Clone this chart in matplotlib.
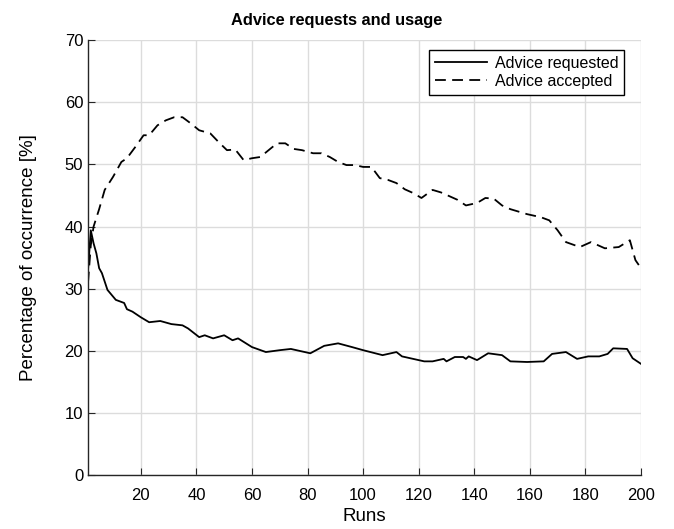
import matplotlib
matplotlib.use("Agg")
import matplotlib.pyplot as plt

# advice requested (solid line), sampled runs
req_runs = [1, 2, 3, 4, 5, 6, 8, 11, 14, 15,
            17, 20, 23, 27, 31, 35, 37, 41, 43, 46,
            50, 53, 55, 60, 65, 70, 74, 81, 86, 91,
            96, 100, 107, 112, 114, 122, 125, 129, 130, 133,
            136, 137, 138, 141, 145, 150, 153, 159, 165, 168,
            173, 177, 181, 185, 188, 190, 195, 197, 200]
req_vals = [33, 39.4, 37.3, 35.7, 33.3, 32.5, 29.8, 28.2, 27.7, 26.7,
            26.3, 25.4, 24.6, 24.8, 24.3, 24.1, 23.6, 22.2, 22.5, 22,
            22.5, 21.7, 22, 20.6, 19.8, 20.1, 20.3, 19.6, 20.8, 21.2,
            20.6, 20.1, 19.3, 19.8, 19.1, 18.3, 18.3, 18.7, 18.3, 19,
            19, 18.7, 19.1, 18.5, 19.6, 19.3, 18.3, 18.2, 18.3, 19.5,
            19.8, 18.7, 19.1, 19.1, 19.5, 20.4, 20.3, 18.8, 17.9]

# advice accepted (dashed line)
acc_runs = [1, 2, 3, 5, 7, 10, 13, 15, 18, 21,
            23, 26, 29, 32, 35, 38, 41, 45, 48, 51,
            54, 57, 60, 63, 66, 69, 72, 75, 78, 82,
            85, 88, 91, 94, 97, 100, 103, 106, 109, 112,
            115, 118, 121, 125, 128, 131, 134, 137, 141, 144,
            147, 150, 153, 156, 159, 164, 167, 170, 173, 178,
            182, 187, 192, 196, 198, 200]
acc_vals = [31, 37, 40, 42.8, 45.9, 48, 50.4, 51, 52.8, 54.7,
            54.7, 56.3, 57.1, 57.6, 57.6, 56.6, 55.5, 55, 53.6, 52.3,
            52.4, 50.7, 51, 51.2, 52.3, 53.4, 53.4, 52.5, 52.3, 51.8,
            51.8, 51.2, 50.4, 49.9, 49.9, 49.6, 49.6, 47.8, 47.5, 47,
            46, 45.4, 44.6, 45.9, 45.5, 44.9, 44.3, 43.4, 43.8, 44.6,
            44.5, 43.4, 42.8, 42.4, 42, 41.5, 41, 39.4, 37.5, 36.7,
            37.5, 36.5, 36.7, 37.8, 34.6, 33.3]

xticks = [20, 40, 60, 80, 100, 120, 140, 160, 180, 200]
yticks = [0, 10, 20, 30, 40, 50, 60, 70]

plt.rcParams['font.family'] = ['Liberation Sans', 'DejaVu Sans']

fig = plt.figure(figsize=(6.74, 5.29), dpi=100)
ax = fig.add_axes([0.1306, 0.102, 0.8204, 0.822])

ax.plot(req_runs, req_vals, color='black', linewidth=1.3, label='Advice requested')
ax.plot(acc_runs, acc_vals, color='black', linewidth=1.3, linestyle=(0, (6, 3.5)),
        label='Advice accepted')

ax.set_xlim(1, 200)
ax.set_ylim(0, 70)
ax.set_xticks(xticks)
ax.set_yticks(yticks)
ax.grid(True, color='#dcdcdc', linewidth=1.0)
ax.set_axisbelow(True)

for side in ['top', 'right']:
    ax.spines[side].set_visible(False)
for side in ['left', 'bottom']:
    ax.spines[side].set_color('#262626')
    ax.spines[side].set_linewidth(1.0)
ax.tick_params(direction='in', length=5, labelsize=12, colors='#262626',
               labelcolor='black')
ax.tick_params(axis='x', pad=9)

ax.set_xlabel('Runs', fontsize=13.5, labelpad=4)
ax.set_ylabel('Percentage of occurrence [%]', fontsize=13.5, labelpad=20)
fig.text(0.5, 0.962, 'Advice requests and usage', fontsize=11.8,
         fontweight='bold', ha='center', va='center')

leg = ax.legend(loc='upper right', bbox_to_anchor=(0.969, 0.977), fontsize=11.5,
                handlelength=3.25, fancybox=False, framealpha=1,
                borderpad=0.35, labelspacing=0.2, handletextpad=0.5,
                borderaxespad=0)
leg.get_frame().set_edgecolor('black')
leg.get_frame().set_linewidth(1.0)

fig.savefig('out.png', dpi=100)
